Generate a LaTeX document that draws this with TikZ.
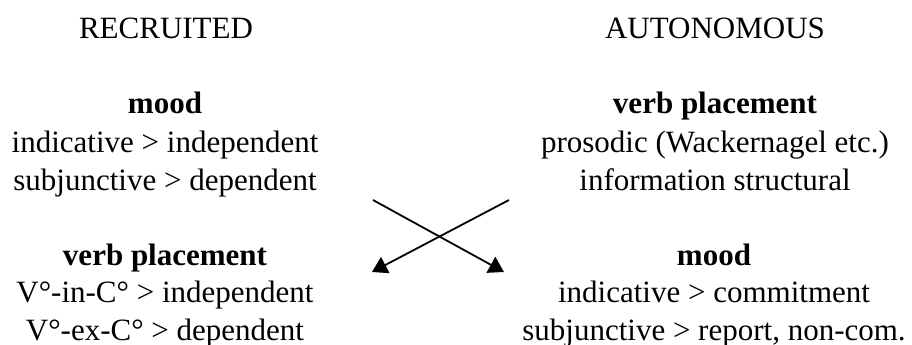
\documentclass[tikz,border=0pt]{standalone}
\usepackage{fontspec}
\setmainfont{Liberation Serif}
\usetikzlibrary{arrows.meta}
\tikzset{
  txt/.style={anchor=base, inner sep=0pt, font=\fontsize{31}{38}\selectfont},
  hdr/.style={txt, font=\fontsize{31}{38}\selectfont\bfseries},
  arr/.style={line width=1.8pt, -{Triangle[length=15pt,width=18pt]}}
}
\begin{document}
\begin{tikzpicture}[x=1pt,y=-1pt]
\useasboundingbox (0,0) rectangle (912,345);
\node[txt] (recr) at (166,39) {RECRUITED};
\node[txt] (auto) at (715,39) {AUTONOMOUS};
% left top
\node[hdr] (lmood) at (165,113) {mood};
\node[txt] (l1) at (165,152) {indicative > independent};
\node[txt] (l2) at (165,190) {subjunctive > dependent};
% right top
\node[hdr] (rvp) at (715,113) {verb placement};
\node[txt] (r1) at (715,152) {prosodic (Wackernagel etc.)};
\node[txt] (r2) at (715,190) {information structural};
% left bottom
\node[hdr] (lvp) at (165,265) {verb placement};
\node[txt] (l3) at (165,302) {V°-in-C° > independent};
\node[txt] (l4) at (165,340) {V°-ex-C° > dependent};
% right bottom
\node[hdr] (rmood) at (714,265) {mood};
\node[txt] (r3) at (714,302) {indicative > commitment};
\node[txt] (r4) at (714,340) {subjunctive > report, non-com.};
% arrows
\coordinate (s1) at (373,200);
\coordinate (e1) at (504,272);
\coordinate (s2) at (509,200);
\coordinate (e2) at (372,272);
\draw[arr] (s1) -- (e1);
\draw[arr] (s2) -- (e2);
\end{tikzpicture}
\end{document}
